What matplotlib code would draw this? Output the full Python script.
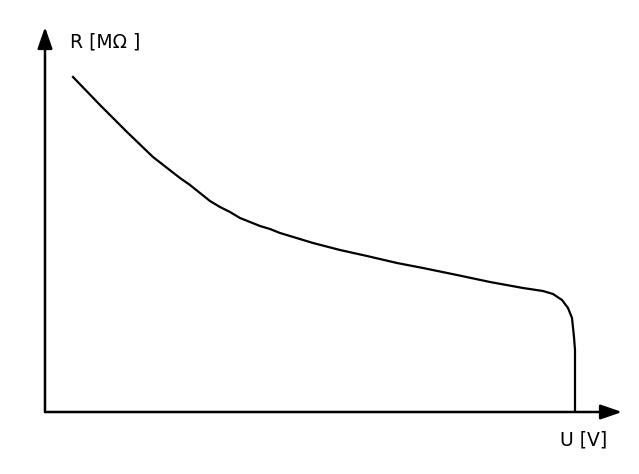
import matplotlib.pyplot as plt
import numpy as np

# sketch of R(U), arbitrary units
u_vals = [28, 55, 82, 108, 135, 145, 155, 165, 175, 185, 195, 205, 215, 225,
          235, 245, 268, 295, 322, 352, 378, 412, 445, 478, 498, 508, 517, 523,
          527, 529, 530, 530]
r_vals = [335, 307, 280, 255, 234, 227, 219, 211, 205, 200, 194, 190, 186, 183,
          179, 176, 169, 162, 156, 149, 144, 137, 130, 124, 121, 118, 112, 104,
          94, 75, 62, 0]

x_label = "U [V]"
y_label = "R [MΩ ]"

W, H = 639, 474
fig = plt.figure(figsize=(W / 100, H / 100), dpi=100)

# axes spans origin to the arrow tips
x0, y0 = 45, 412
x1, y1 = 622, 27
ax = fig.add_axes([x0 / W, (H - y0) / H, (x1 - x0) / W, (y0 - y1) / H])
ax.set_xlim(0, x1 - x0)
ax.set_ylim(0, y0 - y1)
ax.axis("off")

ax.plot(u_vals, r_vals, color="black", lw=1.6, solid_joinstyle="round")

# axis arrows
arrow = dict(arrowstyle="-|>,head_length=1.3,head_width=0.45", color="black",
             lw=1.8, shrinkA=0, shrinkB=0)
ax.annotate("", xy=(0, 1), xytext=(0, 0), xycoords="axes fraction",
            arrowprops=arrow)
ax.annotate("", xy=(1, 0), xytext=(0, 0), xycoords="axes fraction",
            arrowprops=arrow)

fig.text(70 / W, (H - 47) / H, y_label, fontsize=13.5, ha="left", va="baseline")
fig.text(560 / W, (H - 445) / H, x_label, fontsize=13.5, ha="left", va="baseline")

fig.savefig("out.png", dpi=100, facecolor="white")
